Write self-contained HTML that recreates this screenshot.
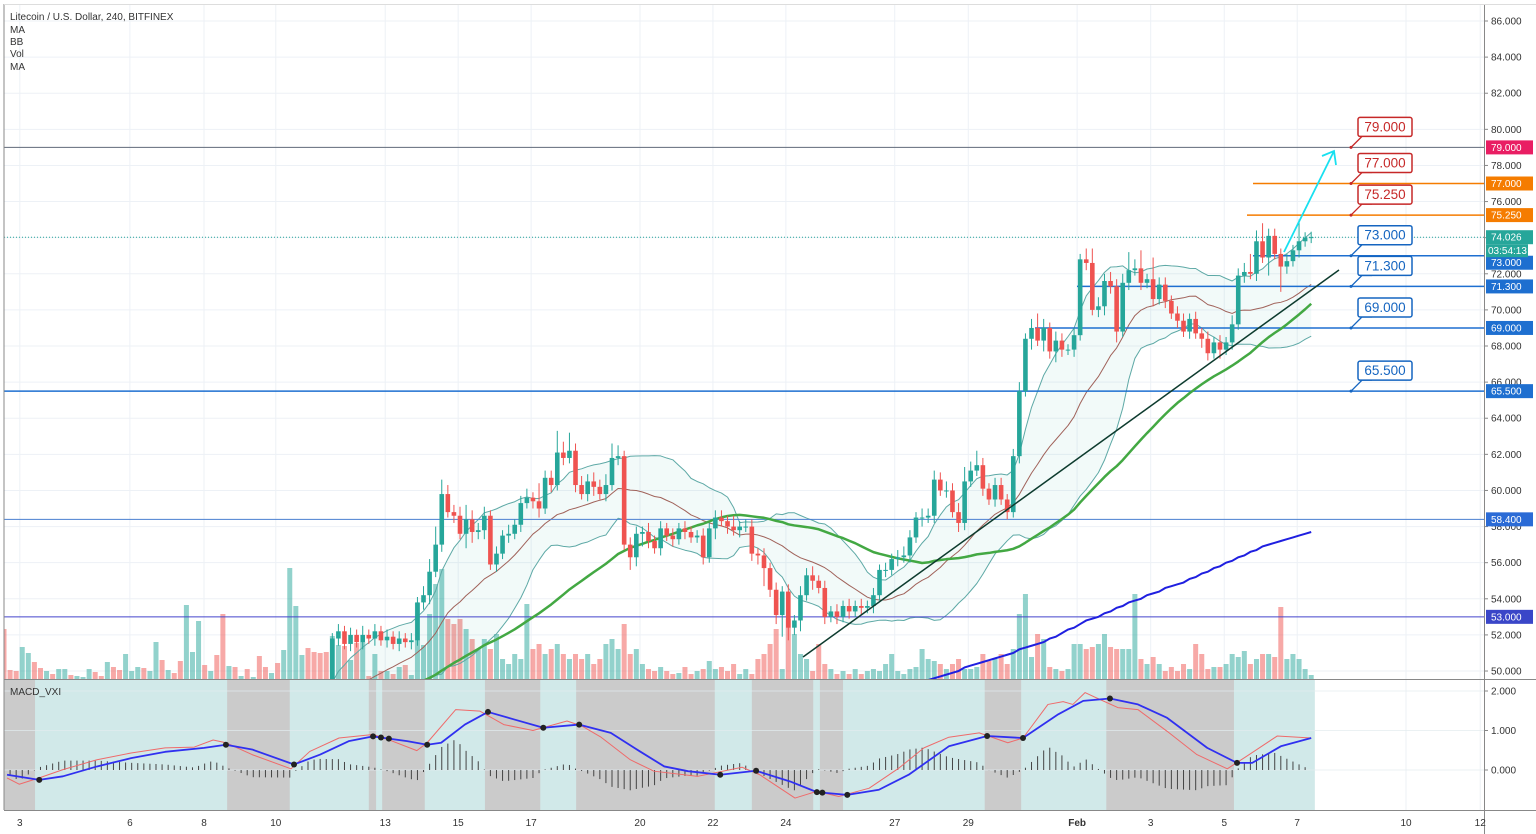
<!DOCTYPE html>
<html><head><meta charset="utf-8"><title>LTCUSD chart</title>
<style>
html,body{margin:0;padding:0;background:#fff;width:1536px;height:834px;overflow:hidden}
svg{display:block;font-family:"Liberation Sans",sans-serif}
</style></head>
<body>
<svg id="chart" width="1536" height="834" viewBox="0 0 1536 834" xmlns="http://www.w3.org/2000/svg">
<defs>
<clipPath id="mainClip"><rect x="4" y="4" width="1480" height="675"/></clipPath>
<clipPath id="macdClip"><rect x="4" y="680" width="1480" height="130"/></clipPath>
</defs>
<rect x="0" y="0" width="1536" height="834" fill="#fff"/>
<g id="grid"></g>
<g id="macdBg"></g>
<g id="main" clip-path="url(#mainClip)"></g>
<g id="macd" clip-path="url(#macdClip)"></g>
<g id="frame">
<line x1="4" y1="4" x2="4" y2="810" stroke="#888" stroke-width="1"/>
<line x1="1484.5" y1="4" x2="1484.5" y2="834" stroke="#888" stroke-width="1"/>
<line x1="4" y1="679.5" x2="1536" y2="679.5" stroke="#888" stroke-width="1"/>
<line x1="4" y1="810.5" x2="1536" y2="810.5" stroke="#888" stroke-width="1"/>
<line x1="4" y1="4.5" x2="1536" y2="4.5" stroke="#ddd" stroke-width="1"/>
</g>
<g id="axes"></g>
<g id="overlay"></g>
<g font-size="10" fill="#333">
<text x="10" y="20">Litecoin / U.S. Dollar, 240, BITFINEX</text>
<text x="10" y="33">MA</text>
<text x="10" y="45">BB</text>
<text x="10" y="57">Vol</text>
<text x="10" y="70">MA</text>
<text x="10" y="695">MACD_VXI</text>
</g>
</svg>
<script>
// ---------- DATA ----------
const hiddenCloses=[47.9,47.8,47.7,47.9,48.0,47.9,47.8,47.9,47.8,47.9,48.0,47.9,48.0,48.1,48.2,48.1,48.0,48.1,48.0,47.9,48.0,48.1,48.2,48.1,48.2,48.3,48.2,48.3,48.2,48.1,48.2,48.3,48.4,48.3,48.4,48.3,48.2,48.3,48.2,48.3,48.2,48.3,48.2,48.1,48.2,48.1,48.2,48.3,48.4,48.5,48.4,48.3,48.2,48.1];
const visibleCloses=[51.8,52.2,51.5,52,51.6,52,51.8,52.2,51.7,51.9,
51.5,51.8,51.6,51.7,53.8,54.2,55.5,57,59.8,58.8,
58.6,57.6,58.4,57.7,57.8,58.6,55.9,56.5,57.5,57.6,
58.1,59.3,59.6,59.4,59,60.7,60.3,62.1,61.8,62.2,
60.3,59.8,60.5,60.2,59.8,60.3,61.8,61.9,57,56.3,
57.6,57.7,57.2,56.8,57.9,57.5,57.3,57.9,57.7,57.4,
57.5,56.3,57.9,58.5,58.3,58,57.8,58,58,56.5,
56.4,55.7,54.5,53.1,54.4,52.4,52.8,54.2,55.3,55,
54.6,53,53.3,53,53.6,53.3,53.6,53.5,53.6,54.2,
55.6,55.6,56.2,56.3,56.4,57.4,58.5,58.5,58.6,60.6,
60,60,58.8,58.2,60.5,61.1,61.4,60.1,59.5,60.3,
59.5,58.8,61.9,65.5,68.4,69,68.3,69,67.7,68.3,
67.8,67.8,68.6,72.8,72.6,70,70.2,71.6,71.3,68.8,
71.5,72.2,72.3,71.5,71.7,70.6,71.4,70.5,69.8,69.4,
68.8,69.5,68.7,68.4,67.6,68.2,67.8,68.2,69.2,71.9,
72.1,72,73.8,72.9,74.1,73.1,72.4,72.7,73.3,73.8,
74,74.03];
const wickHi="333333333333333333333333333333333333333333333333333333"+"3434353434"+"3434357a85"+"4585453435"+"3453a44c6a"+"4545468634"+"4353434343"+"3434436344"+"3434343545"+"3434343434"+"3434543545"+"4545858434"+"4345358535"+"4343685454"+"5a5a3c4434"+"4343434354"+"5a6a44343c"+"33";
const wickLo="333333333333333333333333333333333333333333333333333333"+"3434343434"+"3434345343"+"4386453434"+"3434534343"+"4345343437"+"5743434343"+"3436343434"+"5a45c74635"+"3434343434"+"3434343534"+"3435433434"+"3434363646"+"4343434546"+"3434343434"+"3435435343"+"4343a3e434"+"33";
const volumes=[50,9,8,32,26,17,11,8,5,10,10,4,3,2,10,7,3,17,12,9,25,8,12,11,8,37,19,9,6,18,74,27,58,14,8,24,65,13,12,3,10,2,23,12,6,16,29,111,73,24,31,27,26,27,
43,34,33,19,36,37,3,25,8,8,5,12,14,4,76,34,65,95,110,60,55,60,50,40,30,40,30,45,20,15,25,20,75,30,35,25,30,35,25,20,25,20,25,15,20,35,40,30,55,25,30,15,10,8,12,8,5,6,12,5,8,10,18,10,12,8,15,5,10,5,20,25,35,50,10,60,45,25,20,8,35,15,10,5,8,5,10,5,8,10,8,15,25,8,5,10,12,30,20,18,15,10,15,20,10,10,12,25,18,20,25,15,30,65,85,22,45,40,12,10,8,10,35,35,30,32,35,45,32,30,30,30,85,20,15,22,15,8,12,8,15,10,35,25,10,12,12,15,25,22,28,15,20,25,25,22,72,20,25,20,10,4];
const longMAStart=152;
const longMA=[49.5,49.6,49.7,49.8,49.9,50.0,50.2,50.3,50.4,50.5,50.6,50.7,50.8,50.9,51.0,51.2,51.3,51.4,51.5,51.6,51.8,51.9,52.1,52.3,52.4,52.6,52.8,52.9,53.0,53.2,53.3,53.5,53.6,53.8,53.9,54.0,54.2,54.3,54.4,54.6,54.7,54.8,54.9,55.1,55.2,55.4,55.5,55.7,55.8,56.0,56.1,56.3,56.4,56.6,56.7,56.9,57.0,57.1,57.2,57.3,57.4,57.5,57.6,57.7];
const signalT=[0.5,5.8,9.7,15.3,20.9,26.5,32.9,36.5,40.8,47.7,52,56.7,60.7,66.3,69.6,71.9,75.8,79.6,83.9,88.7,94.6,99.8,104.6,108.6,112.5,117.8,123.7,129.3,133.7,138.7,143.9,148.8,155.4,161.7,167.6,173.4,177.5,181.9,186.5,191.3,197.9,202.8,205.3,210,215];
const signalV=[-0.12,-0.25,-0.16,0.09,0.30,0.46,0.56,0.64,0.52,0.14,0.39,0.73,0.85,0.73,0.64,0.69,1.15,1.47,1.28,1.07,1.15,0.94,0.47,0.09,-0.03,-0.12,-0.02,-0.29,-0.56,-0.63,-0.5,-0.12,0.6,0.86,0.81,1.41,1.75,1.81,1.66,1.32,0.56,0.18,0.18,0.6,0.81];
const macdT=[0.5,2.5,5.8,9.7,15.3,20.9,26.5,31.3,34.4,36.5,40.8,47.2,50.3,55.1,60.7,63.2,67.9,69.6,74.3,78.3,82.2,87,92.6,95.1,98.2,103,106.9,114.1,121.4,124.3,130.1,133.7,137.3,142.3,147.2,151.3,155.4,160.4,165.1,167.6,171.7,174.2,175.8,177.8,179.9,183.2,186.5,191.3,196.2,201.2,204.4,209.4,215];
const macdV=[-0.2,-0.36,-0.2,0.01,0.26,0.43,0.56,0.58,0.76,0.69,0.39,0.03,0.47,0.81,0.9,0.77,0.49,0.69,1.53,1.49,1.15,1.0,1.24,1.11,0.83,0.26,-0.03,-0.16,0.07,-0.12,-0.71,-0.54,-0.67,-0.46,0.05,0.56,0.83,0.94,0.69,0.81,1.66,1.73,1.66,1.96,1.81,1.58,1.53,0.98,0.39,0.03,0.35,0.86,0.81];
const crossT=[5.8,36.5,47.7,60.7,62,63.3,69.6,79.6,88.7,94.6,117.8,123.7,133.7,134.6,138.7,161.7,167.6,181.9,202.8];
const shadeStart=[0,36.7,60,62.2,79.1,94.1,123,134.2,161.3,181.3];
const shadeEnd=[5.1,47,61.2,69.2,88.2,116.9,133.1,138,167.3,202.3];
const timeLabels=["3","6","8","10","13","15","17","20","22","24","27","29","Feb","3","5","7","10","12"];
const timeTickIdx=[2.6,20.7,32.9,44.7,62.7,74.7,86.7,104.6,116.6,128.6,146.5,158.6,176.5,188.6,200.7,212.7,230.6,242.8];
const priceTicks=[86,84,82,80,78,76,74,72,70,68,66,64,62,60,58,56,54,52,50];
const macdTicks=[2,1,0];
const levelValues=[79,77,75.25,73,71.3,69,65.5];
const levelLabels=["79.000","77.000","75.250","73.000","71.300","69.000","65.500"];
const levelColors=["#c62828","#c62828","#c62828","#1565c0","#1565c0","#1565c0","#1565c0"];
const lastPrice=74.026;

// ---------- SCALES ----------
const NS="http://www.w3.org/2000/svg";
const X=i=>4+6.08*i;
const Y=p=>21+(86-p)*18.056;
const YM=v=>770-v*39.5;
function mk(parent,tag,attrs,text){const e=document.createElementNS(NS,tag);for(const k in attrs)e.setAttribute(k,attrs[k]);if(text!==undefined)e.textContent=text;parent.appendChild(e);return e;}
function interp(T,V,t){if(t<=T[0])return V[0];for(let k=1;k<T.length;k++){if(t<=T[k]){const f=(t-T[k-1])/(T[k]-T[k-1]);return V[k-1]+f*(V[k]-V[k-1]);}}return V[V.length-1];}

const closes=hiddenCloses.concat(visibleCloses);
const N=closes.length;
const opens=closes.map((c,i)=>i===0?48.0:closes[i-1]);
const highs=closes.map((c,i)=>Math.max(c,opens[i])+parseInt(wickHi[i]||"3",36)/10);
const lows=closes.map((c,i)=>Math.min(c,opens[i])-parseInt(wickLo[i]||"3",36)/10);

const grid=document.getElementById('grid'),main=document.getElementById('main'),macd=document.getElementById('macd'),macdBg=document.getElementById('macdBg'),axes=document.getElementById('axes'),ov=document.getElementById('overlay');

// grid
priceTicks.forEach(p=>{const l=mk(grid,'line',{x1:4,x2:1484,y1:Y(p),y2:Y(p),stroke:'#edf1f6','stroke-width':1});

});
timeTickIdx.forEach(t=>{const l=mk(grid,'line',{x1:X(t),x2:X(t),y1:4,y2:810,stroke:'#edf1f6','stroke-width':1});

});

// macd background
const bgR=mk(macdBg,'rect',{x:4,y:680,width:X(215.6)-4,height:130,fill:'#d1e9e9'});


shadeStart.forEach((s,k)=>{const r=mk(macdBg,'rect',{x:Math.max(4,X(s)),y:680,width:X(shadeEnd[k])-Math.max(4,X(s)),height:130,fill:'#cbcbcb'});

});
macdTicks.forEach(v=>{const l=mk(macdBg,'line',{x1:4,x2:1484,y1:YM(v),y2:YM(v),stroke:'#e3ecef','stroke-width':1,opacity:0.7});

});

// volume
for(let i=0;i<N;i++){const up=closes[i]>=opens[i];const h=volumes[i];
const r=mk(main,'rect',{x:X(i)-2.5,y:679-h,width:5,height:h,fill:up?'rgba(38,166,154,0.5)':'rgba(239,83,80,0.5)'});

}

// bollinger
const P=20,MULT=1.2,mid=[],up=[],dn=[];
for(let i=0;i<N;i++){if(i<P-1){mid.push(null);up.push(null);dn.push(null);continue;}
let s=0;for(let k=i-P+1;k<=i;k++)s+=closes[k];const m=s/P;let v=0;for(let k=i-P+1;k<=i;k++)v+=(closes[k]-m)**2;const sd=Math.sqrt(v/P);mid.push(m);up.push(m+MULT*sd);dn.push(m-MULT*sd);}
let fillD='';for(let i=P-1;i<N;i++)fillD+=(i===P-1?'M':'L')+X(i)+','+Y(up[i]);for(let i=N-1;i>=P-1;i--)fillD+='L'+X(i)+','+Y(dn[i]);fillD+='Z';
const bbf=mk(main,'path',{d:fillD,fill:'rgba(38,166,154,0.06)'});


function line(arr,start,color,w,name){let d='';for(let i=start;i<arr.length;i++){if(arr[i]==null)continue;d+=(d?'L':'M')+X(i)+','+Y(arr[i]);}
const p=mk(main,'path',{d:d,fill:'none',stroke:color,'stroke-width':w,'stroke-linejoin':'round'});

return p;}
line(up,0,'#5ea9a6',1,'bollinger-upper');
line(dn,0,'#5ea9a6',1,'bollinger-lower');
line(mid,0,'#a0625a',1,'bollinger-basis');

// horizontal levels
function hl(x1,p,color,w,name){const l=mk(main,'line',{x1:x1,x2:1484,y1:Y(p),y2:Y(p),stroke:color,'stroke-width':w});

}
hl(4,79,'#606a7a',1,'level-79-line');
hl(1253,77,'#f57c00',1.5,'level-77-line');
hl(1247,75.25,'#f57c00',1.5,'level-75-25-line');
hl(1253,73,'#1e6fd0',1.5,'level-73-line');
hl(1077,71.3,'#1e6fd0',1.5,'level-71-3-line');
hl(1035,69,'#1e6fd0',1.5,'level-69-line');
hl(4,65.5,'#1e6fd0',1.5,'level-65-5-line');
hl(4,58.4,'#4a7fd0',1,'level-58-4-line');
hl(4,53,'#4444cc',1,'level-53-line');
const lp=mk(main,'line',{x1:4,x2:1484,y1:Y(lastPrice),y2:Y(lastPrice),stroke:'#26a69a','stroke-width':1,'stroke-dasharray':'1,2'});



// moving averages
const sma50=closes.map((c,i)=>{if(i<49)return null;let s=0;for(let k=i-49;k<=i;k++)s+=closes[k];return s/50;});
line(sma50,0,'#43a843',2.5,'ma-50-line');
let dB='';longMA.forEach((v,k)=>{dB+=(k?'L':'M')+X(longMAStart+k)+','+Y(v);});
const bl=mk(main,'path',{d:dB,fill:'none',stroke:'#1f1fe0','stroke-width':2});



// candles
for(let i=0;i<N;i++){const o=opens[i],c=closes[i],upC=c>=o,col=upC?'#26a69a':'#ef5350';
const g=mk(main,'g',{});


mk(g,'line',{x1:X(i),x2:X(i),y1:Y(highs[i]),y2:Y(lows[i]),stroke:col,'stroke-width':1});
const top=Y(Math.max(o,c)),bot=Y(Math.min(o,c));
mk(g,'rect',{x:X(i)-2.3,y:top,width:4.6,height:Math.max(1,bot-top),fill:col});}

// trendline and arrow
const tl=mk(main,'line',{x1:803,y1:657,x2:1339,y2:270,stroke:'#0d3b2e','stroke-width':1.5});


const ar=mk(main,'path',{d:'M1284,252 L1334,151 M1322,156 L1334,151 L1336,165',fill:'none',stroke:'#18e0f0','stroke-width':1.8});



// macd pane
for(let i=0;i<N;i++){const v=(interp(macdT,macdV,i)-interp(signalT,signalV,i))*1.4;
const h=mk(macd,'line',{x1:X(i),x2:X(i),y1:YM(0),y2:YM(v),stroke:'#444','stroke-width':1});

}
function mline(T,V,color,w,name){let d='';T.forEach((t,k)=>{d+=(k?'L':'M')+X(t)+','+YM(V[k]);});
const p=mk(macd,'path',{d:d,fill:'none',stroke:color,'stroke-width':w,'stroke-linejoin':'round'});

}
mline(macdT,macdV,'#ef6a6a',1,'macd-line');
mline(signalT,signalV,'#3030f0',1.8,'signal-line');
crossT.forEach(t=>{const c=mk(macd,'circle',{cx:X(t),cy:YM(interp(signalT,signalV,t)),r:3,fill:'#222'});

});

// price axis
priceTicks.forEach(p=>{const t=mk(axes,'text',{x:1491,y:Y(p)+3.5,'font-size':10,fill:'#333'},p.toFixed(3));


mk(axes,'line',{x1:1484,x2:1488,y1:Y(p),y2:Y(p),stroke:'#888'});});
macdTicks.forEach(v=>{const t=mk(axes,'text',{x:1491,y:YM(v)+3.5,'font-size':10,fill:'#333'},v.toFixed(3));


mk(axes,'line',{x1:1484,x2:1488,y1:YM(v),y2:YM(v),stroke:'#888'});});
timeLabels.forEach((s,k)=>{const t=mk(axes,'text',{x:X(timeTickIdx[k]),y:826,'font-size':10,fill:'#333','text-anchor':'middle','font-weight':s==='Feb'?'bold':'normal'},s);

});

// price badges
function badge(y,txt,bg,name){const r=mk(axes,'rect',{x:1486,y:y-7,width:47,height:14,fill:bg});


const t=mk(axes,'text',{x:1491,y:y+3.5,'font-size':10,fill:'#fff'},txt);

}
badge(Y(79),'79.000','#e91e63','badge-79');
badge(Y(77),'77.000','#f57c00','badge-77');
badge(Y(75.25),'75.250','#f57c00','badge-75-25');
badge(Y(73)+7,'73.000','#1e6fd0','badge-73');
badge(Y(lastPrice),lastPrice.toFixed(3),'#26a69a','badge-last-price');
const cdR=mk(axes,'rect',{x:1486,y:Y(lastPrice)+7,width:42,height:13,fill:'#26a69a'});


const cdT=mk(axes,'text',{x:1488,y:Y(lastPrice)+17,'font-size':10,fill:'#fff'},'03:54:13');


badge(Y(71.3),'71.300','#1e6fd0','badge-71-3');
badge(Y(69),'69.000','#1e6fd0','badge-69');
badge(Y(65.5),'65.500','#1e6fd0','badge-65-5');
badge(Y(58.4),'58.400','#2b6bd6','badge-58-4');
badge(Y(53),'53.000','#3a46c8','badge-53');

// callouts
levelValues.forEach((v,k)=>{const ly=Y(v),by=ly-30,col=levelColors[k];
const g=mk(ov,'g',{});


mk(g,'path',{d:`M1351,${ly} L1362,${by+19} L1372,${by+19}`,fill:'none',stroke:col,'stroke-width':1.3});
mk(g,'rect',{x:1358,y:by,width:54,height:19,rx:2,fill:'#fff',stroke:col,'stroke-width':1.5});
mk(g,'text',{x:1385,y:by+14,'font-size':13.5,fill:col,'text-anchor':'middle'},levelLabels[k]);
mk(g,'circle',{cx:1351,cy:ly,r:1.5,fill:col});});
</script>
</body></html>
